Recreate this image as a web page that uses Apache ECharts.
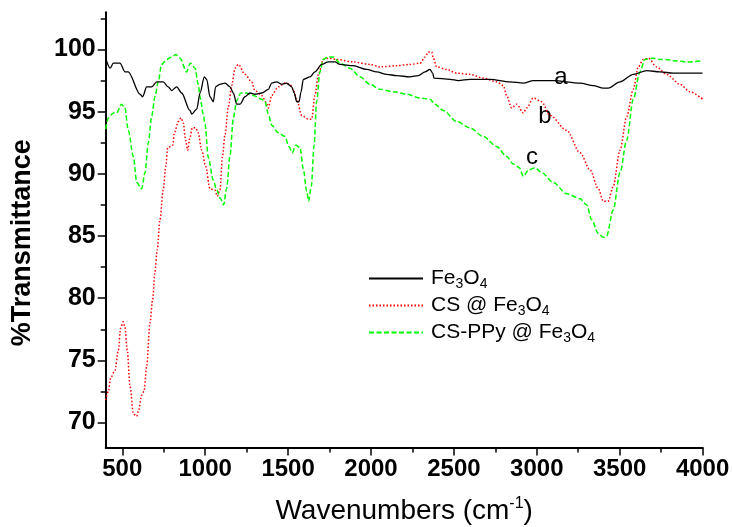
<!DOCTYPE html>
<html>
<head>
<meta charset="utf-8">
<script src="https://cdn.jsdelivr.net/npm/echarts@6/dist/echarts.min.js"></script>
<style>
html,body{margin:0;padding:0;background:#fff;}
#chart{width:732px;height:527px;}
</style>
</head>
<body>
<div id="chart"></div>
<script>
// ---- data ----
const seriesNames = ['Fe3O4', 'CS @ Fe3O4', 'CS-PPy @ Fe3O4'];

const wnFe = [400,427,446,486,517,536,607,623,647,677,708,747,777,798,828,858,908,919,949,969,995,1009,1029,1049,1063,1089,1120,1150,1170,1190,1210,1240,1270,1300,1341,1381,1401,1431,1461,1492,1522,1537,1552,1566,1578,1592,1632,1662,1703,1743,1783,1813,1893,1974,2034,2094,2155,2235,2285,2326,2356,2372,2380,2477,2527,2597,2718,2838,2919,2979,3100,3261,3341,3401,3431,3502,3582,3663,3743,3823,3904,4000];
const tFe  = [99.3,98.5,98.9,98.9,98.2,98.2,96.4,96.2,97.0,97.0,97.4,97.4,97.0,96.7,97.0,96.5,95.1,94.8,95.2,96.5,97.8,97.6,96.2,95.8,97.0,97.2,97.3,97.0,96.5,95.6,95.6,96.2,96.5,96.4,96.5,96.8,97.3,97.4,97.2,97.3,97.0,96.5,95.8,95.8,96.6,97.6,97.8,98.2,98.8,99.0,99.0,98.8,98.7,98.4,98.2,98.0,97.9,97.8,97.9,98.2,98.4,98.1,97.7,97.6,97.5,97.6,97.6,97.4,97.3,97.5,97.5,97.3,97.1,96.9,96.9,97.4,98.0,98.3,98.2,98.1,98.1,98.1];

const wnCS = [400,416,430,456,476,490,506,516,530,547,567,587,597,617,631,647,667,683,697,711,727,747,762,774,804,814,838,854,868,882,894,908,922,943,958,979,1003,1029,1059,1073,1089,1105,1120,1140,1160,1180,1200,1240,1280,1300,1341,1371,1381,1401,1441,1481,1511,1531,1552,1582,1622,1642,1662,1683,1713,1743,1793,1893,1994,2054,2155,2235,2296,2326,2346,2366,2376,2396,2457,2517,2597,2678,2758,2798,2818,2848,2879,2919,2939,2979,3029,3080,3180,3261,3322,3371,3401,3431,3461,3502,3542,3582,3612,3642,3673,3723,3783,3864,3924,4000];
const tCS  = [71.8,72.5,73.6,74.2,75.8,77.6,78.1,77.7,75.8,72.9,70.7,70.5,70.9,72.2,72.5,74.5,78.0,79.9,82.1,83.9,86.3,88.7,90.6,92.1,92.3,93.3,94.2,94.5,94.1,92.7,91.9,92.9,93.7,93.7,93.3,91.9,90.6,88.8,88.7,88.2,88.7,91.5,93.2,95.4,97.1,98.5,98.8,98.0,97.4,96.7,96.3,95.7,95.3,96.3,97.0,97.3,97.2,96.8,96.0,94.7,94.4,94.4,96.3,98.0,99.2,99.3,99.2,99.0,98.8,98.6,98.7,98.8,98.9,99.4,99.8,99.8,99.3,98.6,98.4,98.1,98.0,97.7,97.4,97.1,96.3,95.3,95.6,94.9,95.3,96.1,95.8,94.7,93.5,91.7,90.3,88.8,87.8,87.8,89.0,91.9,94.6,96.8,98.6,99.2,99.3,98.6,98.0,97.2,96.6,96.0];

const wnPPy = [400,416,446,466,496,516,536,567,587,617,637,657,677,697,717,737,768,798,824,848,888,910,939,958,969,988,999,1019,1049,1069,1093,1111,1129,1150,1170,1190,1215,1245,1290,1341,1361,1381,1401,1441,1481,1505,1525,1547,1572,1592,1612,1624,1640,1657,1672,1692,1712,1743,1773,1813,1873,1934,1994,2054,2135,2215,2296,2356,2386,2436,2517,2597,2678,2758,2818,2858,2895,2919,2949,2989,3029,3100,3180,3261,3301,3331,3371,3401,3421,3461,3502,3542,3582,3622,3652,3703,3743,3783,3823,3904,4000];
const tPPy  = [93.6,94.5,94.9,94.9,95.6,95.3,93.5,91.4,89.3,88.8,90.1,92.5,94.6,96.2,97.4,98.8,99.2,99.4,99.6,99.3,98.2,98.9,98.5,97.2,96.2,94.8,94.0,91.3,89.5,88.7,88.0,87.5,88.8,91.5,94.5,95.9,96.5,96.5,96.3,96.0,95.8,94.8,93.9,93.3,93.0,92.2,91.7,92.3,92.1,90.4,88.6,87.8,89.0,92.3,95.8,98.2,99.2,99.4,99.4,98.9,98.5,97.8,97.2,96.8,96.6,96.4,96.1,96.0,95.6,95.1,94.2,93.7,93.0,92.2,91.4,90.8,90.5,89.8,90.3,90.5,90.1,89.3,88.4,88.0,87.5,86.3,85.2,84.9,85.0,87.1,90.1,92.7,96.0,98.2,99.2,99.3,99.2,99.2,99.1,99.0,99.1];

const xMajorTicks = [500,1000,1500,2000,2500,3000,3500,4000];
const xMinorTicks = [750,1250,1750,2250,2750,3250,3750];
const yMajorTicks = [70,75,80,85,90,95,100];
const yMinorTicks = [72.5,77.5,82.5,87.5,92.5,97.5,102.5];
const curveLabels = ['a','b','c'];

// ---- chart ----
const FONT = "'Liberation Sans',Arial,sans-serif";
const zip = (xs, ys) => xs.map((x, i) => [x, ys[i]]);

const richName = {
  'Fe3O4': '{n|Fe}{s|3}{n|O}{s|4}',
  'CS @ Fe3O4': '{n|CS @ Fe}{s|3}{n|O}{s|4}',
  'CS-PPy @ Fe3O4': '{n|CS-PPy @ Fe}{s|3}{n|O}{s|4}'
};

const chart = echarts.init(document.getElementById('chart'), null, {renderer: 'canvas'});

const axisLineStyle = {color: '#000', width: 2};

const option = {
  backgroundColor: '#fff',
  animation: false,
  grid: {left: 105.7, right: 29.4, top: 12.2, bottom: 79.6, containLabel: false, outerBoundsMode: 'none'},
  legend: {
    orient: 'vertical',
    left: 368, top: 268,
    padding: 0,
    itemWidth: 54, itemHeight: 12, itemGap: 3.5,
    data: seriesNames,
    itemStyle: {opacity: 0},
    formatter: name => richName[name],
    textStyle: {
      padding: [0, 0, 0, 3],
      rich: {
        n: {fontSize: 21, fontFamily: FONT, color: '#000', lineHeight: 26},
        s: {fontSize: 14, fontFamily: FONT, color: '#000', lineHeight: 6, verticalAlign: 'bottom'}
      }
    }
  },
  xAxis: [{
    type: 'value', min: 400, max: 4000,
    name: 'Wavenumbers (cm{sup|-1})',
    nameLocation: 'middle', nameGap: 48,
    nameTextStyle: {
      fontSize: 28, fontFamily: FONT, color: '#000', lineHeight: 32,
      rich: {sup: {fontSize: 16, fontFamily: FONT, color: '#000', lineHeight: 18, verticalAlign: 'top'}}
    },
    axisLine: {show: true, onZero: false, lineStyle: axisLineStyle},
    axisTick: {show: true, length: 8, customValues: xMajorTicks, lineStyle: {color: '#000', width: 1.5}},
    axisLabel: {show: true, customValues: xMajorTicks, formatter: v => String(v), margin: 10, fontSize: 24, fontWeight: 'bold', fontFamily: FONT, color: '#000'},
    splitLine: {show: false}
  }, {
    type: 'value', min: 400, max: 4000, position: 'bottom', gridIndex: 0,
    axisLine: {show: false},
    axisTick: {show: true, length: 5, customValues: xMinorTicks, lineStyle: {color: '#000', width: 1.5}},
    axisLabel: {show: false},
    splitLine: {show: false}
  }],
  yAxis: [{
    type: 'value', min: 68, max: 103,
    name: '%Transmittance',
    nameLocation: 'middle', nameGap: 70, nameRotate: 90,
    nameTextStyle: {fontSize: 27, fontWeight: 'bold', fontFamily: FONT, color: '#000', padding: [0, 26, 0, 0]},
    axisLine: {show: true, onZero: false, lineStyle: axisLineStyle},
    axisTick: {show: true, length: 8, customValues: yMajorTicks, lineStyle: {color: '#000', width: 1.5}},
    axisLabel: {show: true, customValues: yMajorTicks, formatter: v => String(v), margin: 10, fontSize: 25, fontWeight: 'bold', fontFamily: FONT, color: '#000'},
    splitLine: {show: false}
  }, {
    type: 'value', min: 68, max: 103, position: 'left', gridIndex: 0,
    axisLine: {show: false},
    axisTick: {show: true, length: 5, customValues: yMinorTicks, lineStyle: {color: '#000', width: 1.5}},
    axisLabel: {show: false},
    splitLine: {show: false}
  }],
  series: [{
    name: seriesNames[0], type: 'line', data: zip(wnFe, tFe),
    symbol: 'none', smooth: 0.3, smoothMonotone: 'x', z: 5,
    lineStyle: {color: '#000', width: 1.3, type: 'solid'},
    itemStyle: {color: '#000'}
  }, {
    name: seriesNames[1], type: 'line', data: zip(wnCS, tCS),
    symbol: 'none', smooth: 0.3, smoothMonotone: 'x', z: 3,
    lineStyle: {color: '#ff0000', width: 1.5, type: [1.5, 2]},
    itemStyle: {color: '#ff0000'}
  }, {
    name: seriesNames[2], type: 'line', data: zip(wnPPy, tPPy),
    symbol: 'none', smooth: 0.3, smoothMonotone: 'x', z: 4,
    lineStyle: {color: '#00ff00', width: 1.5, type: [5, 2.5]},
    itemStyle: {color: '#00ff00'}
  }],
  graphic: [
    {type: 'text', x: 561, y: 77, style: {text: curveLabels[0], fontSize: 24, fontFamily: FONT, fill: '#000', align: 'center', verticalAlign: 'middle'}},
    {type: 'text', x: 545, y: 116, style: {text: curveLabels[1], fontSize: 24, fontFamily: FONT, fill: '#000', align: 'center', verticalAlign: 'middle'}},
    {type: 'text', x: 532, y: 157, style: {text: curveLabels[2], fontSize: 24, fontFamily: FONT, fill: '#000', align: 'center', verticalAlign: 'middle'}}
  ]
};
chart.setOption(option);
</script>
</body>
</html>
